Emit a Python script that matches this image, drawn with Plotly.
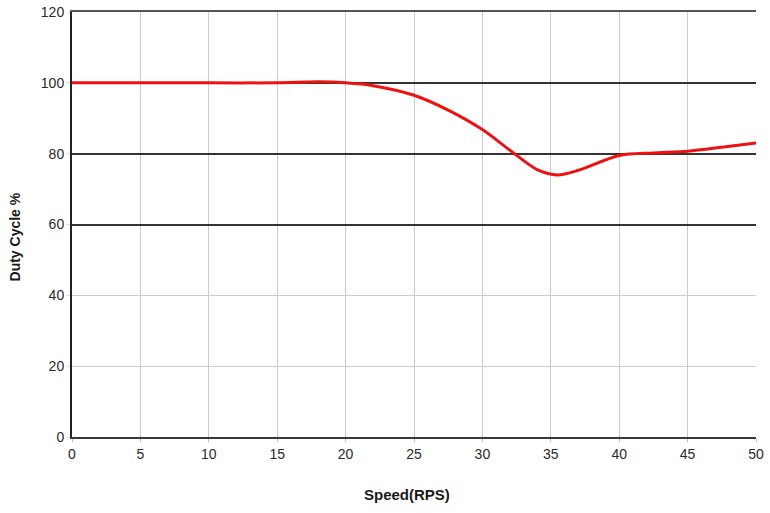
import plotly.graph_objects as go

speed = [0, 5, 10, 15, 18, 20, 22, 25, 27.5, 30, 32, 34, 35.5, 37, 40, 42.5, 45, 47.5, 50]
duty = [100, 100, 100, 100, 100.3, 100, 99.2, 96.5, 92.3, 86.8, 81, 75.5, 74, 75.3, 79.5, 80.2, 80.7, 81.8, 83]

x_ticks = [0, 5, 10, 15, 20, 25, 30, 35, 40, 45, 50]
y_ticks = [0, 20, 40, 60, 80, 100, 120]
dark_levels = [60, 80, 100]

fig = go.Figure()
# invisible trace to activate overlay axes (drawn first)
fig.add_trace(go.Scatter(x=[speed[0]], y=[duty[0]], xaxis="x2", yaxis="y2", mode="lines",
                         line=dict(width=0), showlegend=False, hoverinfo="skip"))
fig.add_trace(go.Scatter(x=speed, y=duty, mode="lines",
                         line=dict(color="#ee1111", width=3, shape="spline", smoothing=0.8),
                         showlegend=False, hoverinfo="skip"))

font = "Liberation Sans, Arial, sans-serif"
fig.update_layout(
    width=770, height=513,
    margin=dict(l=72, r=14, t=12, b=76),
    paper_bgcolor="white", plot_bgcolor="white",
    font=dict(family=font, color="#333333", size=14),
    xaxis=dict(range=[0, 50], tickvals=x_ticks, showgrid=True, gridcolor="#cccccc", gridwidth=1,
               showline=True, linecolor="#3a3a3a", linewidth=2, zeroline=False,
               ticks="outside", ticklen=3, tickcolor="#bbbbbb", automargin=False,
               tickfont=dict(size=14, color="#2a2a2a")),
    xaxis2=dict(range=[0, 50], overlaying="x", side="top", showgrid=False, showticklabels=False,
                ticks="", showline=True, linecolor="#555555", linewidth=2, zeroline=False,
                automargin=False),
    yaxis=dict(range=[0, 120], tickvals=y_ticks, showgrid=True, gridcolor="#cccccc", gridwidth=1,
               showline=True, linecolor="#222222", linewidth=2, zeroline=False,
               ticks="outside", ticklen=3, tickcolor="#dddddd", automargin=False,
               tickfont=dict(size=14, color="#2a2a2a")),
    yaxis2=dict(range=[0, 120], overlaying="y", tickvals=dark_levels, showgrid=True,
                gridcolor="#333333", gridwidth=2, showticklabels=False, zeroline=False,
                showline=False, side="left", automargin=False),
    annotations=[
        dict(text="<b>Duty Cycle %</b>", xref="paper", yref="paper", x=-0.083, y=0.47,
             xanchor="center", yanchor="middle", textangle=-90, showarrow=False,
             font=dict(size=14, color="#1a1a1a")),
        dict(text="<b>Speed(RPS)</b>", xref="paper", yref="paper", x=0.49, y=-0.136,
             xanchor="center", yanchor="middle", showarrow=False,
             font=dict(size=15, color="#1a1a1a")),
    ],
)
fig.write_html("out.html", config={"displayModeBar": False},
               post_script="document.body.style.margin='0';")
